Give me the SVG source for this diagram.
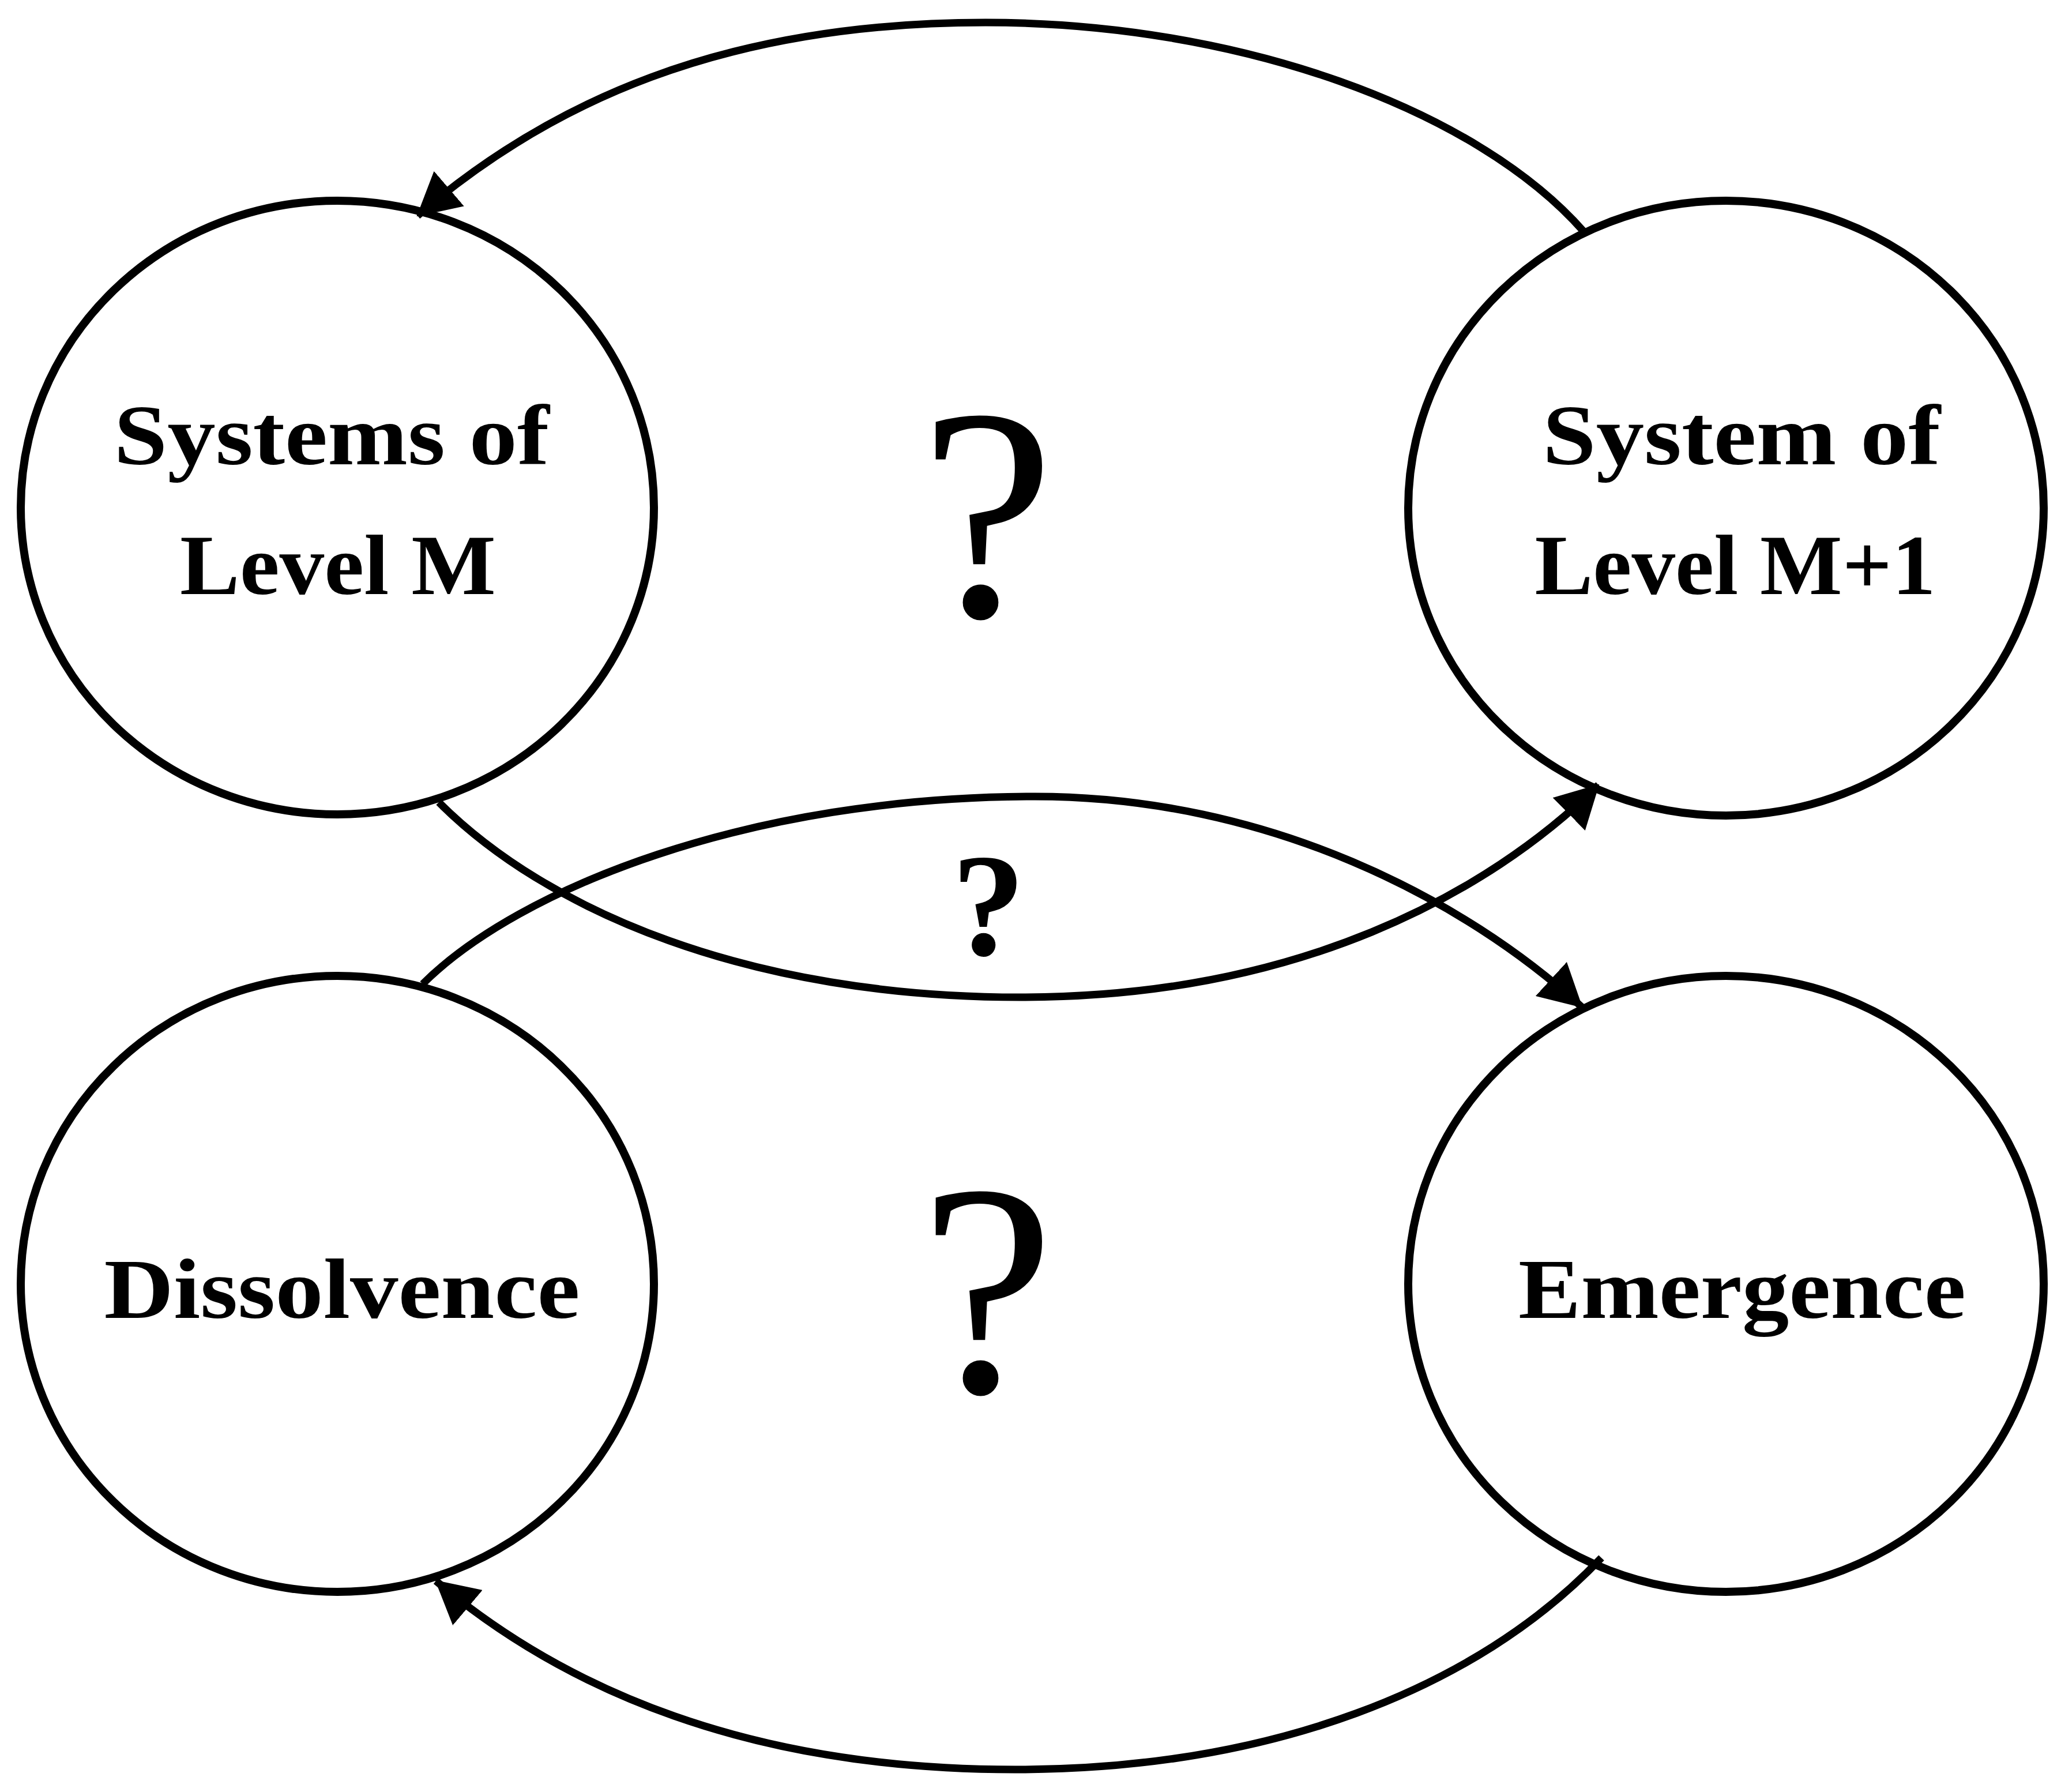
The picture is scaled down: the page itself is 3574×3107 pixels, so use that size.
<svg xmlns="http://www.w3.org/2000/svg" width="3574" height="3107" viewBox="0 0 3574 3107">
<style>
.node{fill:#fff;stroke:#000;stroke-width:14}
.lbl{font-family:"Liberation Serif","Times New Roman",serif;font-weight:bold;font-size:148px;fill:#000;text-anchor:middle}
.q{font-family:"Liberation Serif","Times New Roman",serif;fill:#000;text-anchor:middle}
.edge{fill:none;stroke:#000;stroke-width:13;marker-end:url(#arr)}
</style>
<defs>
<marker id="arr" markerUnits="userSpaceOnUse" viewBox="0 0 74 80" refX="72" refY="40" markerWidth="74" markerHeight="80" orient="auto">
<path d="M0,0 L74,40 L0,80 Z" fill="#000"/>
</marker>
</defs>
<rect width="3574" height="3107" fill="#fff"/>
<g id="nodes">
<g id="n-level-m">
<ellipse class="node" cx="585" cy="880" rx="549" ry="532"/>
<text class="lbl" x="575" y="805" textLength="755" lengthAdjust="spacingAndGlyphs">Systems of</text>
<text class="lbl" x="586" y="1030" textLength="548" lengthAdjust="spacingAndGlyphs">Level M</text>
</g>
<g id="n-level-m1">
<ellipse class="node" cx="2993" cy="881" rx="551" ry="533"/>
<text class="lbl" x="3020" y="805" textLength="690" lengthAdjust="spacingAndGlyphs">System of</text>
<text class="lbl" x="3009" y="1030" textLength="695" lengthAdjust="spacingAndGlyphs">Level M+1</text>
</g>
<g id="n-dissolvence">
<ellipse class="node" cx="585" cy="2226" rx="549" ry="534"/>
<text class="lbl" x="593" y="2285" textLength="825" lengthAdjust="spacingAndGlyphs">Dissolvence</text>
</g>
<g id="n-emergence">
<ellipse class="node" cx="2993" cy="2226" rx="551" ry="534"/>
<text class="lbl" x="3021" y="2285" textLength="776" lengthAdjust="spacingAndGlyphs">Emergence</text>
</g>
</g>
<g id="connectors">
<path class="edge" d="M2746,401 C2560,190 2150,39 1709,39 C1250,39 950,180 724,374"/>
<path class="edge" d="M761,1391 C950,1580 1300,1729 1770,1729 C2250,1729 2580,1550 2772,1361"/>
<path class="edge" d="M733,1706 C900,1540 1300,1381 1795,1381 C2200,1381 2540,1560 2743,1746"/>
<path class="edge" d="M2777,2701 C2560,2930 2200,3068 1760,3068 C1300,3068 980,2930 756,2741"/>
</g>
<g id="labels">
<text class="q" x="1712" y="1068" font-size="525">?</text>
<text class="q" x="1714" y="1655" font-size="255" font-weight="bold">?</text>
<text class="q" x="1712" y="2413" font-size="525">?</text>
</g>
</svg>
